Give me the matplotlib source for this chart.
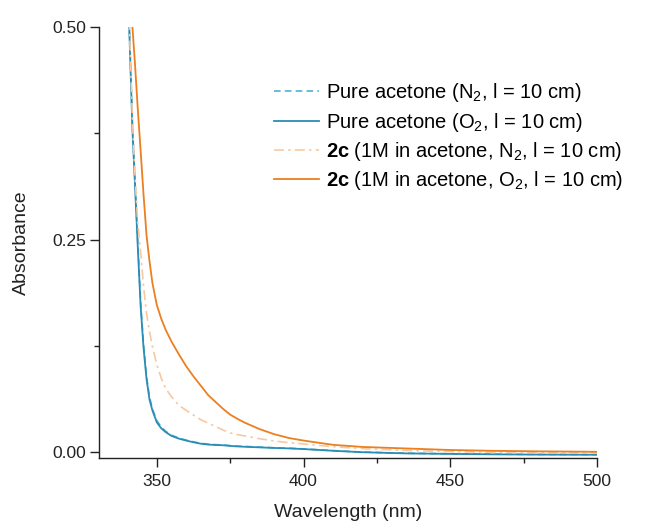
import matplotlib
matplotlib.use("Agg")
import matplotlib.pyplot as plt
from matplotlib.ticker import MultipleLocator, FormatStrFormatter

plt.rcParams['font.family'] = ['Liberation Sans', 'DejaVu Sans']
plt.rcParams['mathtext.fontset'] = 'custom'
plt.rcParams['mathtext.rm'] = 'Liberation Sans'
plt.rcParams['mathtext.bf'] = 'Liberation Sans:bold'
plt.rcParams['mathtext.it'] = 'Liberation Sans:italic'
plt.rcParams['mathtext.default'] = 'regular'

wavelength = [339, 340, 340.6, 341.7, 342.5, 343.5, 344.5, 345.5, 346.5, 347.5, 348.5, 350,
              351.5, 353, 355, 357.5, 360, 362.5, 365, 367.5, 370, 372.5, 375, 377.5, 380,
              385, 390, 395, 400, 410, 420, 435, 450, 465, 480, 500]

acetone_o2 = [0.66, 0.565, 0.5, 0.379, 0.32, 0.243, 0.171, 0.122, 0.086, 0.062, 0.049, 0.035,
              0.028, 0.0235, 0.019, 0.0158, 0.0135, 0.0115, 0.0098, 0.0088, 0.0083, 0.008, 0.0072,
              0.0066, 0.0062, 0.0055, 0.0048, 0.0043, 0.0035, 0.0015, -0.0002, -0.0016, -0.0022,
              -0.0027, -0.003, -0.0032]
acetone_n2 = [0.665, 0.57, 0.505, 0.385, 0.325, 0.248, 0.176, 0.126, 0.089, 0.065, 0.051, 0.037,
              0.0295, 0.0245, 0.0198, 0.0165, 0.014, 0.012, 0.0103, 0.0093, 0.0087, 0.0083, 0.0076,
              0.007, 0.0066, 0.0058, 0.005, 0.0045, 0.0037, 0.0017, 0.0, -0.0014, -0.002,
              -0.0025, -0.0028, -0.003]
c2_n2 = [0.665, 0.57, 0.51, 0.39, 0.33, 0.27, 0.235, 0.195, 0.163, 0.142, 0.124, 0.103, 0.087,
         0.075, 0.065, 0.055, 0.049, 0.0435, 0.038, 0.034, 0.030, 0.026, 0.0225, 0.0205, 0.019,
         0.0157, 0.013, 0.011, 0.0095, 0.0063, 0.004, 0.0018, 0.0005, -0.0003, -0.0008, -0.001]
c2_o2 = [0.65, 0.59, 0.555, 0.5, 0.46, 0.405, 0.354, 0.302, 0.255, 0.225, 0.199, 0.173, 0.157,
         0.144, 0.13, 0.115, 0.101, 0.089, 0.078, 0.067, 0.059, 0.051, 0.044, 0.039, 0.0345,
         0.027, 0.021, 0.0165, 0.0135, 0.0085, 0.006, 0.0042, 0.0024, 0.0014, 0.0008, 0.0003]

labels = [r'Pure acetone (N$_2$, l = 10 cm)',
          r'Pure acetone (O$_2$, l = 10 cm)',
          r'$\mathbf{2c}$ (1M in acetone, N$_2$, l = 10 cm)',
          r'$\mathbf{2c}$ (1M in acetone, O$_2$, l = 10 cm)']

fig = plt.figure(figsize=(6.49, 5.23), dpi=100)
ax = fig.add_axes([0.1525, 0.1243, 0.7675, 0.8241])

ax.plot(wavelength, acetone_n2, color='#4fb3d6', lw=1.2, ls=(0, (4, 2.5)), label=labels[0])
ax.plot(wavelength, acetone_o2, color='#2a8db5', lw=1.3, ls='-', label=labels[1])
ax.plot(wavelength, c2_n2, color='#f6c9a4', lw=1.2, ls=(0, (6, 2.5, 1.5, 2.5)), label=labels[2])
ax.plot(wavelength, c2_o2, color='#ec7f1f', lw=1.3, ls='-', label=labels[3])

ax.set_xlim(330.3, 500)
ax.set_ylim(-0.007, 0.5)
ax.xaxis.set_major_locator(MultipleLocator(50))
ax.xaxis.set_minor_locator(MultipleLocator(25))
ax.yaxis.set_major_locator(MultipleLocator(0.25))
ax.yaxis.set_minor_locator(MultipleLocator(0.125))
ax.yaxis.set_major_formatter(FormatStrFormatter('%.2f'))

for s in ['top', 'right']:
    ax.spines[s].set_visible(False)
for s in ['left', 'bottom']:
    ax.spines[s].set_linewidth(1.0)
    ax.spines[s].set_color('#222222')
ax.tick_params(which='major', direction='out', length=6.5, width=1.0, color='#222222',
               labelsize=12.5, labelcolor='#222222', pad=3)
ax.tick_params(axis='x', which='major', pad=5)
ax.tick_params(which='minor', direction='out', length=3.5, width=1.0, color='#222222')

ax.set_xlabel('Wavelength (nm)', fontsize=14, color='#222222', labelpad=11)
ax.set_ylabel('Absorbance', fontsize=14, color='#222222', labelpad=16)

leg = ax.legend(loc='upper left', bbox_to_anchor=(0.336, 0.893), frameon=False, fontsize=14.5,
                handlelength=2.2, handletextpad=0.34, labelspacing=0.32, borderaxespad=0)

fig.savefig('out.png', dpi=100)
